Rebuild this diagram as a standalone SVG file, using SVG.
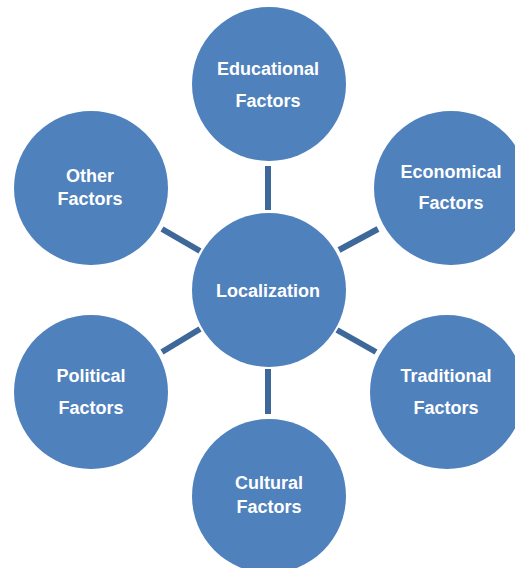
<svg xmlns="http://www.w3.org/2000/svg" width="515" height="568" viewBox="0 0 515 568">
<style>
.node{fill:#4f81bd;}
.lbl{font-family:"Liberation Sans",Arial,sans-serif;font-weight:bold;font-size:18px;fill:#ffffff;text-anchor:middle;}
.conn{stroke:#3d6899;stroke-width:6;stroke-linecap:butt;}
</style>
<rect width="515" height="568" fill="#ffffff"/>
<g id="connectors">
<line class="conn" x1="268" y1="166" x2="268" y2="210"/>
<line class="conn" x1="268" y1="369" x2="268" y2="414"/>
<line class="conn" x1="162" y1="229" x2="200" y2="251"/>
<line class="conn" x1="339" y1="250" x2="378" y2="229"/>
<line class="conn" x1="162" y1="352" x2="200" y2="329"/>
<line class="conn" x1="337" y1="330" x2="376" y2="352"/>
</g>
<g id="localization">
<circle class="node" cx="269" cy="290" r="77"/>
<text class="lbl" x="268" y="297">Localization</text>
</g>
<g id="educational">
<circle class="node" cx="269" cy="84" r="77"/>
<text class="lbl" x="268" y="75">Educational</text>
<text class="lbl" x="268" y="107">Factors</text>
</g>
<g id="economical">
<circle class="node" cx="451" cy="188" r="77"/>
<text class="lbl" x="451" y="178">Economical</text>
<text class="lbl" x="451" y="209">Factors</text>
</g>
<g id="traditional">
<circle class="node" cx="447" cy="392" r="77"/>
<text class="lbl" x="446" y="382">Traditional</text>
<text class="lbl" x="446" y="414">Factors</text>
</g>
<g id="cultural">
<circle class="node" cx="269" cy="496" r="77"/>
<text class="lbl" x="269" y="489">Cultural</text>
<text class="lbl" x="269" y="513">Factors</text>
</g>
<g id="political">
<circle class="node" cx="91" cy="392" r="77"/>
<text class="lbl" x="91" y="382">Political</text>
<text class="lbl" x="91" y="414">Factors</text>
</g>
<g id="other">
<circle class="node" cx="91" cy="188" r="77"/>
<text class="lbl" x="90" y="182">Other</text>
<text class="lbl" x="90" y="205">Factors</text>
</g>
</svg>
